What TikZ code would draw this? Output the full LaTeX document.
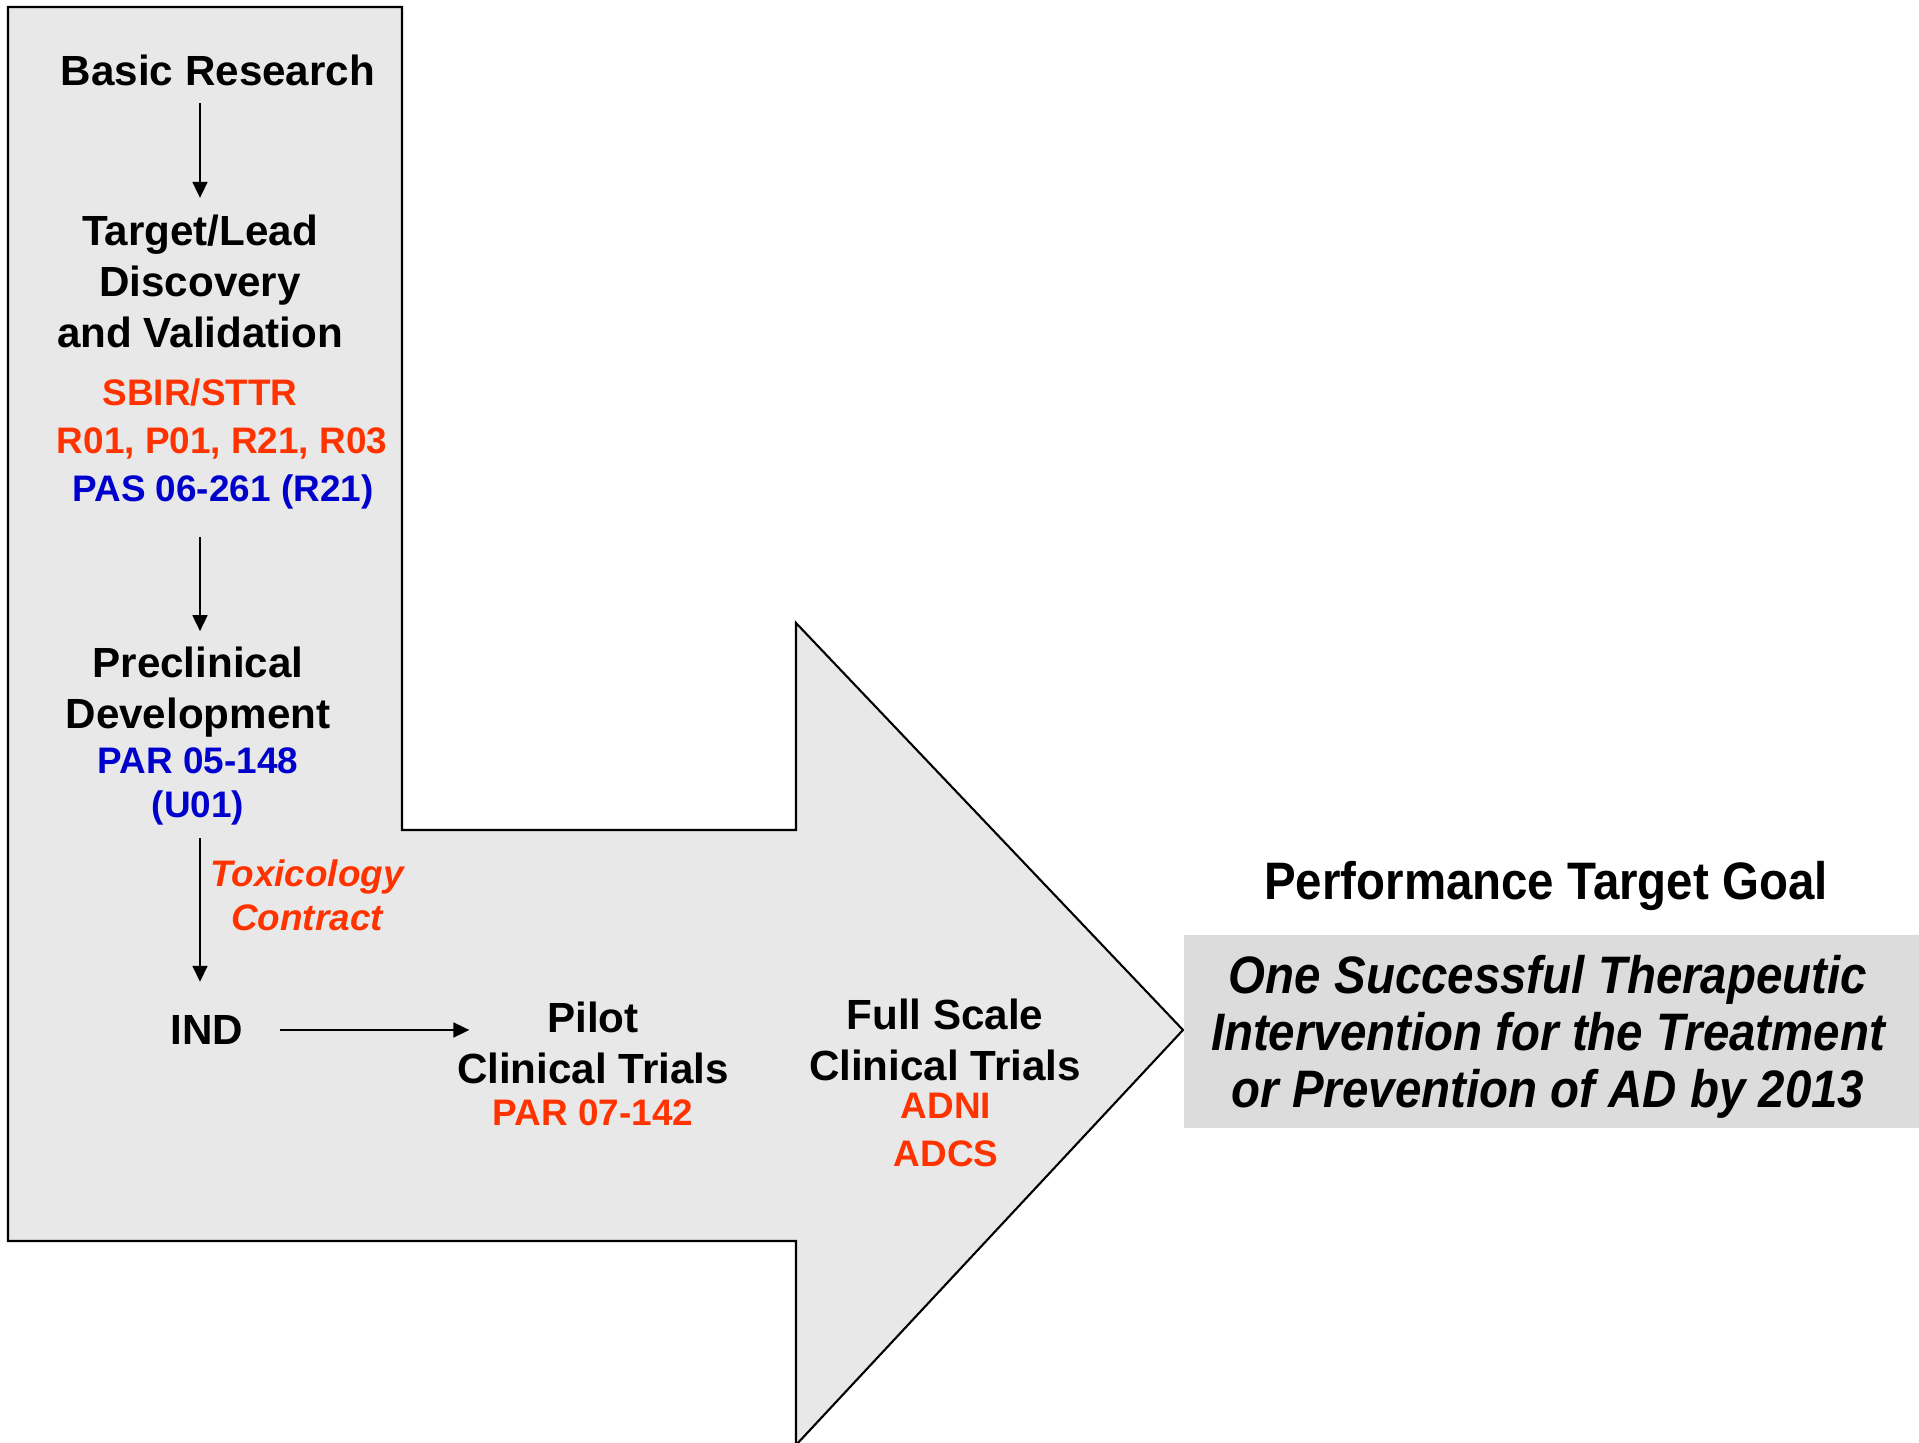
\documentclass[tikz,border=0pt]{standalone}
\usepackage{fontspec}
\setmainfont{Liberation Sans}
\newfontfamily\goalfont[FakeStretch=0.9]{Liberation Sans}
\usetikzlibrary{positioning,arrows.meta}
\definecolor{fundred}{RGB}{255,51,0}
\definecolor{fundblue}{RGB}{0,0,204}
\definecolor{pipegray}{RGB}{232,232,232}
\definecolor{goalgray}{RGB}{220,220,220}

\begin{document}
\begin{tikzpicture}[
  font=\bfseries\fontsize{12}{14.5}\selectfont,
  stage/.style={inner sep=0pt, align=center},
  fund/.style={stage, text=fundred, font=\bfseries\fontsize{10.5}{13.6}\selectfont},
  nih/.style={fund, text=fundblue, font=\bfseries\fontsize{10.5}{12.5}\selectfont},
  contract/.style={fund, font=\bfseries\itshape\fontsize{10.5}{12.5}\selectfont},
  goaltitle/.style={stage, font=\goalfont\bfseries\fontsize{15}{16.3}\selectfont},
  goalbox/.style={rectangle, fill=goalgray, minimum width=73.5mm, minimum height=19.3mm, inner sep=0pt},
  goaltext/.style={stage, font=\goalfont\bfseries\itshape\fontsize{15}{16.3}\selectfont},
  flow/.style={-{Triangle[length=1.6mm,width=1.5mm]}, line width=0.5pt}
]
\useasboundingbox (0,0) rectangle (19.19,14.43);
\draw[fill=pipegray, line width=0.6pt] (0.08,14.36) -- (4.02,14.36) -- (4.02,6.13) -- (7.96,6.13)
  -- (7.96,8.20) -- (11.83,4.13) -- (7.96,-0.02) -- (7.96,2.02) -- (0.08,2.02) -- cycle;

\node[stage] (basic)   at (2.18,13.73) {Basic Research};
\node[stage] (target)  at (2.00,11.62) {Target/Lead\\Discovery\\and Validation};
\node[fund]  (sbir)    at (2.00,10.50) {SBIR/STTR};
\node[fund]  (rgrant)  at (2.22,10.00) {R01, P01, R21, R03};
\node[nih]   (pas)     at (2.23,9.51)  {PAS 06-261 (R21)};
\node[stage] (preclin) at (1.98,7.51)  {Preclinical\\Development};
\node[nih]   (par05)   at (1.98,6.57)  {PAR 05-148\\(U01)};
\node[contract] (tox)  at (3.07,5.48)  {Toxicology\\Contract};
\node[stage] (ind)     at (2.07,4.13)  {IND};
\node[stage] (pilot)   at (5.93,4.00)  {Pilot\\Clinical Trials};
\node[fund]  (par07)   at (5.93,3.30)  {PAR 07-142};
\node[stage] (full)    at (9.45,4.03)  {Full Scale\\Clinical Trials};
\node[fund]  (adcs)    at (9.46,3.13)  {ADNI\\ADCS};

\node[goaltitle] (goal) at (15.46,5.57) {Performance Target Goal};
\node[goalbox]   (aim)  at (15.515,4.115) {};
\node[goaltext]  (aimtext) at (15.48,4.06) {One Successful Therapeutic\\Intervention for the Treatment\\or Prevention of AD by 2013};

\draw[flow, shorten <=1.7mm, shorten >=1.6mm] (basic.south -| target.north) -- (target.north);
\draw[flow, shorten <=2.7mm, shorten >=1.5mm] (pas.south -| target.north) -- (preclin.north -| target.north);
\draw[flow, shorten <=1.3mm, shorten >=3.3mm] (par05.south -| target.north) -- (ind.north -| target.north);
\draw[flow, shorten <=3.6mm] (ind.east) -- ([xshift=1.3mm]ind.east -| pilot.west);
\end{tikzpicture}
\end{document}
